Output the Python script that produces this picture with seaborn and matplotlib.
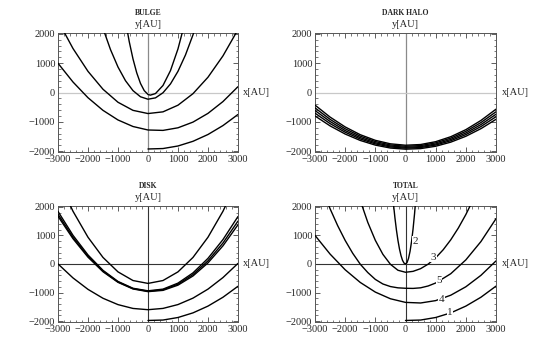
import matplotlib
matplotlib.use("Agg")
import matplotlib.pyplot as plt
from matplotlib.ticker import MultipleLocator
import seaborn as sns

# sample positions along x [AU]
x_wide = [-3000, -2500, -2000, -1500, -1000, -500, 0, 500, 1000, 1500, 2000, 2500, 3000]
x_half = [0, 500, 1000, 1500, 2000, 2500, 3000]

# BULGE curves, y [AU]
bulge_1 = [998, 358, -178, -609, -937, -1160, -1279, -1293, -1204, -1010, -712, -309, 198]
bulge_2 = [2448, 1501, 722, 111, -333, -609, -718, -660, -433, -40, 521, 1250, 2146]
x_bulge_3 = [-1750, -1500, -1250, -1000, -750, -500, -250, 0, 250, 500, 750, 1000, 1250, 1500, 1750]
bulge_3 = [3040, 2188, 1465, 870, 403, 64, -146, -229, -183, -9, 293, 723, 1281, 1967, 2781]
x_bulge_4 = [-750, -625, -500, -375, -250, -125, 0, 80, 250, 500, 750, 1000, 1250]
bulge_4 = [2442, 1737, 1147, 671, 310, 64, -66, -90, -36, 239, 747, 1488, 2462]
bulge_5 = [-1927, -1912, -1825, -1665, -1433, -1128, -750]

# DARK HALO curves
halo_1 = [-430, -839, -1175, -1440, -1632, -1751, -1799, -1775, -1678, -1509, -1268, -954, -569]
halo_2 = [-525, -916, -1238, -1490, -1674, -1789, -1834, -1811, -1718, -1557, -1326, -1026, -658]
halo_3 = [-615, -989, -1298, -1540, -1716, -1825, -1869, -1847, -1758, -1603, -1382, -1095, -742]
halo_4 = [-705, -1061, -1355, -1586, -1753, -1858, -1899, -1878, -1793, -1646, -1436, -1162, -826]
halo_5 = [-800, -1139, -1417, -1636, -1795, -1895, -1934, -1914, -1834, -1694, -1494, -1234, -915]

# DISK curves
disk_1 = [2956, 1845, 936, 229, -276, -579, -680, -579, -276, 229, 936, 1845, 2956]
disk_2 = [1840, 1003, 316, -222, -611, -850, -939, -880, -670, -312, 196, 854, 1660]
disk_3 = [1741, 934, 270, -250, -628, -862, -954, -902, -708, -370, 110, 734, 1500]
disk_4 = [1670, 885, 238, -271, -642, -874, -968, -924, -741, -420, 39, 636, 1371]
disk_5 = [2, -488, -888, -1200, -1422, -1556, -1600, -1555, -1420, -1195, -880, -475, 20]
disk_6 = [-1977, -1962, -1873, -1711, -1474, -1164, -780]

# TOTAL curves (labelled 1..5 in the picture)
total_1 = [-1977, -1962, -1873, -1711, -1474, -1164, -775]
x_total_2 = [-400, -350, -300, -250, -200, -150, -100, -50, 0, 50, 100, 150, 200, 250, 300, 350]
total_2 = [2104, 1611, 1183, 822, 526, 296, 131, 33, 0, 49, 195, 439, 781, 1221, 1758, 2393]
x_total_3 = [-1500, -1250, -1000, -750, -500, -250, 0, 250, 500, 750, 1000, 1250, 1500, 1750, 2000, 2250]
total_3 = [2223, 1455, 827, 338, -11, -220, -290, -258, -164, -6, 215, 499, 846, 1256, 1729, 2265]
total_4 = [1000, 346, -203, -646, -984, -1217, -1344, -1365, -1282, -1093, -798, -398, 107]
x_total_5 = [-2750, -2500, -2250, -2000, -1750, -1500, -1250, -1000, -750, -500, -250, 0,
             250, 500, 750, 1000, 1500, 2000, 2500, 3000]
total_5 = [2589, 1932, 1344, 824, 374, -7, -300, -540, -700, -790, -835, -850,
           -855, -834, -770, -666, -341, 143, 784, 1584]

# contour-style labels on the TOTAL panel
total_labels = ["1", "2", "3", "4", "5"]
total_label_x = [1480, 330, 930, 1190, 1110]
total_label_y = [-1700, 800, 240, -1230, -590]

sns.set_style("ticks")
plt.rcParams["font.family"] = ["Liberation Serif", "DejaVu Serif"]
plt.rcParams["axes.unicode_minus"] = True

fig = plt.figure(figsize=(5.35, 3.46), dpi=100)

panels = [
    ("BULGE", [0.1084, 0.5607, 0.3364, 0.3439], "light"),
    ("DARK HALO", [0.5888, 0.5607, 0.3383, 0.3439], "light"),
    ("DISK", [0.1084, 0.0694, 0.3364, 0.3353], "dark"),
    ("TOTAL", [0.5888, 0.0694, 0.3383, 0.3353], "dark"),
]

curves = {
    "BULGE": [(x_wide, bulge_1), (x_wide, bulge_2), (x_bulge_3, bulge_3),
              (x_bulge_4, bulge_4), (x_half, bulge_5)],
    "DARK HALO": [(x_wide, halo_1), (x_wide, halo_2), (x_wide, halo_3),
                  (x_wide, halo_4), (x_wide, halo_5)],
    "DISK": [(x_wide, disk_1), (x_wide, disk_2), (x_wide, disk_3),
             (x_wide, disk_4), (x_wide, disk_5), (x_half, disk_6)],
    "TOTAL": [(x_half, total_1), (x_total_2, total_2), (x_total_3, total_3),
              (x_wide, total_4), (x_total_5, total_5)],
}

for name, rect, axis_style in panels:
    ax = fig.add_axes(rect)

    if axis_style == "light":
        ax.axvline(0, color="#8a8a8a", lw=0.9, zorder=1)
        ax.axhline(0, color="#c8c8c8", lw=0.9, zorder=1)
    else:
        ax.axvline(0, color="#333333", lw=0.8, zorder=1)
        ax.axhline(0, color="#333333", lw=0.8, zorder=1)

    for xs, ys in curves[name]:
        sns.lineplot(x=xs, y=ys, ax=ax, color="black", linewidth=1.0,
                     estimator=None, sort=False, legend=False, zorder=3)

    ax.set_xlim(-3000, 3000)
    ax.set_ylim(-2030, 2030)
    ax.set_xlabel("")
    ax.set_ylabel("")
    ax.xaxis.set_major_locator(MultipleLocator(1000))
    ax.yaxis.set_major_locator(MultipleLocator(1000))
    ax.xaxis.set_minor_locator(MultipleLocator(200))
    ax.yaxis.set_minor_locator(MultipleLocator(200))
    ax.tick_params(which="both", direction="in", top=True, right=True,
                   labelsize=7.5, pad=2, color="#444444")
    ax.tick_params(which="major", length=3.5, width=0.6)
    ax.tick_params(which="minor", length=1.8, width=0.5)
    for sp in ax.spines.values():
        sp.set_color("#555555")
        sp.set_linewidth(0.7)

    ax.text(0.5, 1.17, name, transform=ax.transAxes, ha="center", va="center",
            fontsize=5.5, fontweight="bold")
    ax.text(0.5, 1.075, "y[AU]", transform=ax.transAxes, ha="center", va="center",
            fontsize=7.5)
    ax.text(1.03, 0, "x[AU]", transform=ax.get_yaxis_transform(), ha="left",
            va="center", fontsize=7.5, clip_on=False)

    if name == "TOTAL":
        for lab, lx, ly in zip(total_labels, total_label_x, total_label_y):
            ax.text(lx, ly, lab, ha="center", va="center", fontsize=8, zorder=4,
                    bbox=dict(facecolor="white", edgecolor="none", pad=0.3))

fig.savefig("out.png", dpi=100)
